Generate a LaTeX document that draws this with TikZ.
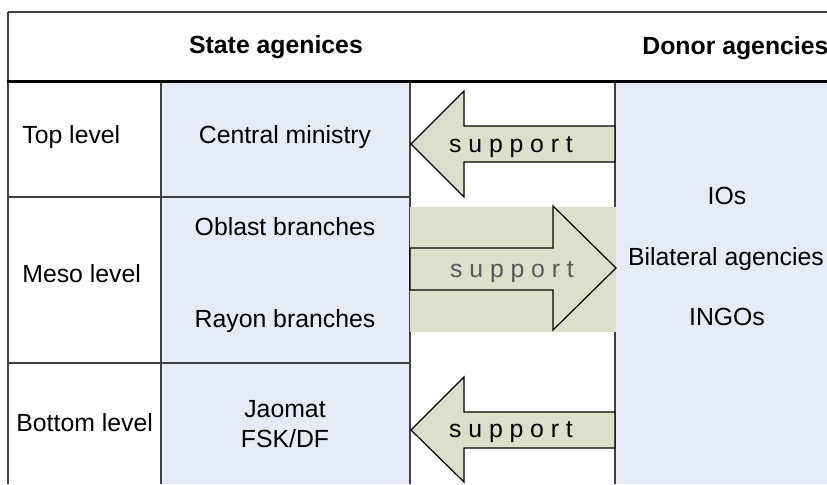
\documentclass[tikz,border=0pt]{standalone}
\usepackage{fontspec}
\setmainfont{Liberation Sans}
\definecolor{colblue}{HTML}{E6ECF7}
\definecolor{arrowfill}{HTML}{DCE0CB}
\definecolor{midtext}{HTML}{595959}
\newcommand{\lsp}{\hspace{3.4pt}}
\newcommand{\supword}{s\lsp u\lsp p\lsp p\lsp o\lsp r\lsp t}
\begin{document}
\begin{tikzpicture}[x=0.5pt,y=-0.5pt,
  lbl/.style={inner sep=0pt,font=\fontsize{12.4}{14}\selectfont,anchor=base},
  lblw/.style={lbl,anchor=base west},
  hdr/.style={lbl,font=\fontsize{12.4}{14}\selectfont\bfseries},
  gridline/.style={draw=black!75,line width=0.6pt},
  blockarrow/.style={draw=black,line width=0.6pt,fill=arrowfill,line join=miter}]
\useasboundingbox (0,0) rectangle (827,484);
% column fills
\fill[colblue] (161,82) rectangle (410,484);
\fill[colblue] (615,82) rectangle (827,484);
% frame and column lines
\draw[gridline] (8,12) -- (827,12);
\draw[gridline] (8,12) -- (8,484);
\draw[gridline] (161,82) -- (161,484);
\draw[gridline] (410,82) -- (410,484);
\draw[gridline] (615,82) -- (615,484);
\draw[gridline] (8,197) -- (410,197);
\draw[gridline] (8,363) -- (410,363);
\draw[line width=1.5pt] (7,81) -- (827,81);
% middle band
\fill[arrowfill] (410,207) rectangle (616,332);
% arrows
\draw[blockarrow] (615,126) -- (464,126) -- (464,91) -- (411,144) -- (464,197) -- (464,162) -- (615,162) -- cycle;
\draw[blockarrow] (410,248) -- (553,248) -- (553,206) -- (616,268) -- (553,330) -- (553,290) -- (410,290) -- cycle;
\draw[blockarrow] (615,412) -- (464,412) -- (464,377) -- (411,430) -- (464,482) -- (464,448) -- (615,448) -- cycle;
% headers
\node[hdr] (state) at (276,53) {State agenices};
\node[hdr,anchor=base west] (donor) at (642,54) {Donor agencies};
% level labels
\node[lblw] (top) at (22,143) {Top level};
\node[lblw] (meso) at (22,282) {Meso level};
\node[lblw] (bottom) at (16,431) {Bottom level};
% state agencies
\node[lbl] (central) at (285,143) {Central ministry};
\node[lbl] (oblast) at (285,235) {Oblast branches};
\node[lbl] (rayon) at (285,327) {Rayon branches};
\node[lbl] (jaomat) at (285,417) {Jaomat};
\node[lbl] (fsk) at (285,447) {FSK/DF};
% donor agencies
\node[lbl] (ios) at (727,204) {IOs};
\node[lbl] (bilat) at (726,265) {Bilateral agencies};
\node[lbl] (ingos) at (727,325) {INGOs};
% support labels
\node[lbl] (sup1) at (511,152) {\supword};
\node[lbl,text=midtext] (sup2) at (512,277) {\supword};
\node[lbl] (sup3) at (511,437) {\supword};
\end{tikzpicture}
\end{document}
